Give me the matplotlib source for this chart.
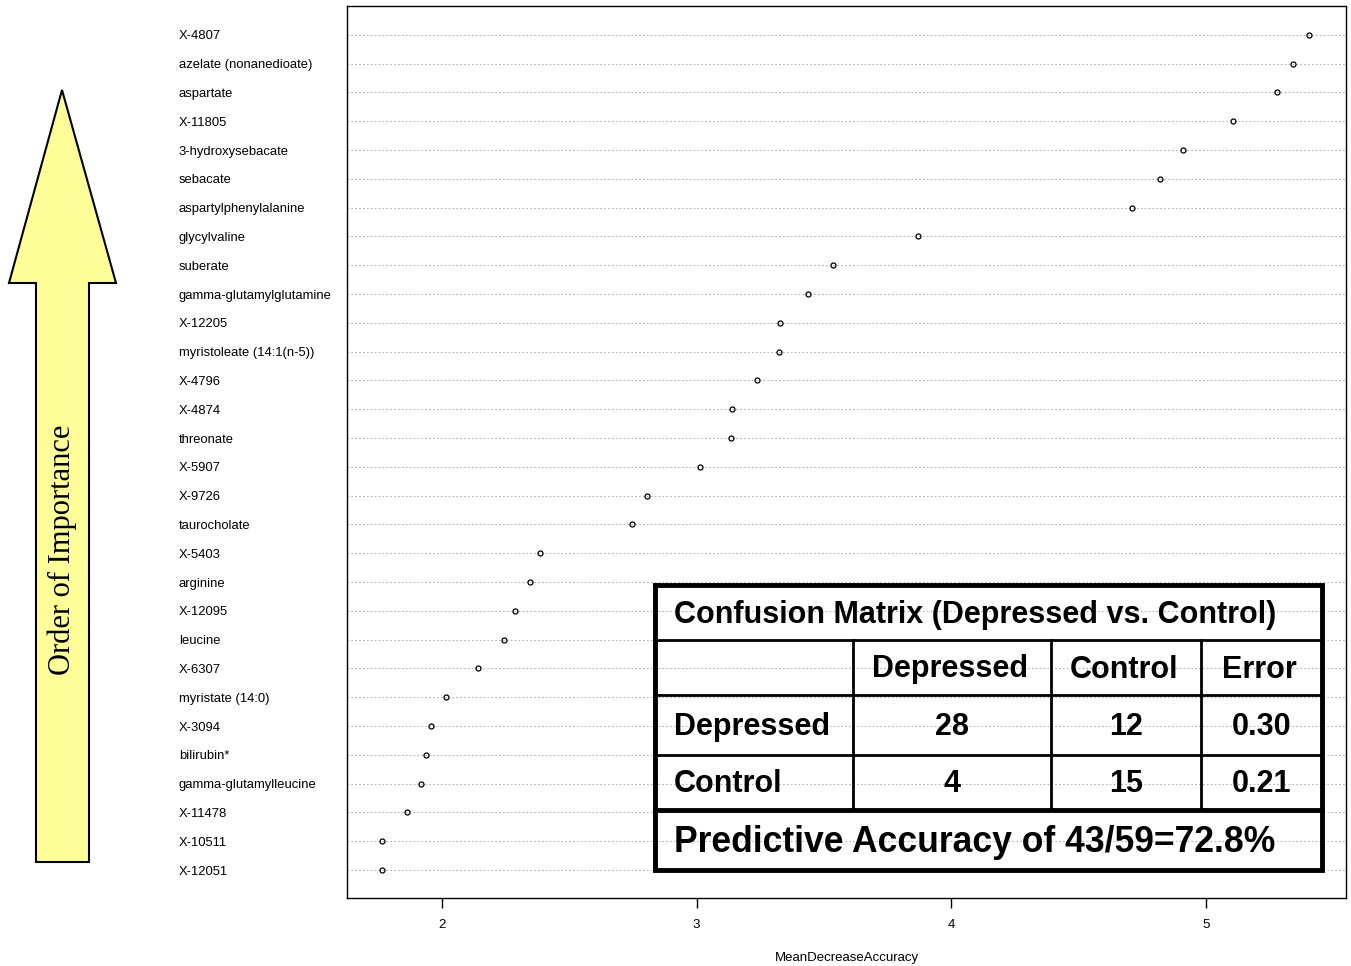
import numpy as np
import matplotlib.pyplot as plt
from matplotlib.patches import Polygon

metabolites = ['X-4807', 'azelate (nonanedioate)', 'aspartate', 'X-11805', '3-hydroxysebacate',
               'sebacate', 'aspartylphenylalanine', 'glycylvaline', 'suberate',
               'gamma-glutamylglutamine', 'X-12205', 'myristoleate (14:1(n-5))', 'X-4796',
               'X-4874', 'threonate', 'X-5907', 'X-9726', 'taurocholate', 'X-5403', 'arginine',
               'X-12095', 'leucine', 'X-6307', 'myristate (14:0)', 'X-3094', 'bilirubin*',
               'gamma-glutamylleucine', 'X-11478', 'X-10511', 'X-12051']
mda = [5.405, 5.34, 5.28, 5.106, 4.91, 4.82, 4.71, 3.87, 3.536, 3.438, 3.328, 3.324, 3.236,
       3.138, 3.134, 3.012, 2.805, 2.746, 2.385, 2.346, 2.287, 2.244, 2.141, 2.016, 1.957,
       1.937, 1.917, 1.862, 1.764, 1.764]

xticks = [2, 3, 4, 5]

cm_title = 'Confusion Matrix (Depressed vs. Control)'
cm_cols = ['Depressed', 'Control', 'Error']
cm_rows = ['Depressed', 'Control']
cm_vals = [['28', '12', '0.30'], ['4', '15', '0.21']]
cm_footer = 'Predictive Accuracy of 43/59=72.8%'

W, H = 1351, 966
fig = plt.figure(figsize=(W / 100, H / 100), dpi=100)
plt.rcParams['font.family'] = ['Liberation Sans', 'DejaVu Sans']

ax = fig.add_axes([347 / W, 1 - 898 / H, (1346 - 347) / W, (898 - 6) / H])
n = len(metabolites)
ypos = np.arange(n, 0, -1)
for y in ypos:
    ax.axhline(y, color='#b4b4b4', linestyle=(0, (1.5, 2)), linewidth=0.8, zorder=1)
ax.plot(mda, ypos, 'o', markerfacecolor='none', markeredgecolor='black',
        markersize=3.6, markeredgewidth=0.9, zorder=3)
ax.set_xlim(1.627, 5.55)
ax.set_ylim(0.03, 31.0)
ax.set_xticks(xticks)
ax.set_xticklabels([str(t) for t in xticks], fontsize=9.5)
ax.tick_params(axis='x', length=7, width=1, pad=8)
ax.set_yticks(ypos)
ax.set_yticklabels(metabolites, fontsize=9.4)
ax.tick_params(axis='y', length=0, pad=121)
for t in ax.get_yticklabels():
    t.set_horizontalalignment('left')
for s in ax.spines.values():
    s.set_linewidth(1.0)
ax.set_xlabel('MeanDecreaseAccuracy', fontsize=9.5, labelpad=15)

# overlay in pixel coordinates
ov = fig.add_axes([0, 0, 1, 1], facecolor='none')
ov.set_xlim(0, W)
ov.set_ylim(H, 0)
ov.axis('off')

arrow = Polygon([(62, 90), (116, 283), (89, 283), (89, 862), (36, 862), (36, 283), (9, 283)],
                closed=True, facecolor='#ffff99', edgecolor='black', linewidth=1.5)
ov.add_patch(arrow)
ov.text(62, 550, 'Order of Importance', rotation=90, ha='center', va='center',
        fontsize=22, family=['Liberation Serif', 'DejaVu Serif'])

# confusion matrix table
tx0, tx1 = 655, 1322
col_x = [655, 853, 1051, 1201, 1322]
row_y = [585, 640, 695, 755, 810, 870]
tfont = ['Liberation Sans', 'DejaVu Sans']
ov.plot([tx0, tx1, tx1, tx0, tx0], [row_y[0], row_y[0], row_y[-1], row_y[-1], row_y[0]],
        color='black', linewidth=3.5, solid_joinstyle='miter', zorder=5)
for i, y in enumerate(row_y[1:-1], start=1):
    lw = 3.5 if i == 4 else 2
    ov.plot([tx0, tx1], [y, y], color='black', linewidth=lw, zorder=5)
for x in col_x[1:-1]:
    ov.plot([x, x], [row_y[1], row_y[4]], color='black', linewidth=2, zorder=5)

ov.text(674, (row_y[0] + row_y[1]) / 2 + 3, cm_title, ha='left', va='center',
        fontsize=22, fontweight='bold', family=tfont)
for j, c in enumerate(cm_cols):
    ov.text((col_x[j + 1] + col_x[j + 2]) / 2 - 2, (row_y[1] + row_y[2]) / 2 + 2, c,
            ha='center', va='center', fontsize=22, fontweight='bold', family=tfont)
for i, r in enumerate(cm_rows):
    yc = (row_y[2 + i] + row_y[3 + i]) / 2 + 2
    ov.text(674, yc, r, ha='left', va='center', fontsize=22, fontweight='bold', family=tfont)
    for j, v in enumerate(cm_vals[i]):
        ov.text((col_x[j + 1] + col_x[j + 2]) / 2, yc, v, ha='center', va='center',
                fontsize=22, fontweight='bold', family=tfont)
ov.text(674, (row_y[4] + row_y[5]) / 2 + 3, cm_footer, ha='left', va='center',
        fontsize=25.6, fontweight='bold', family=tfont)

fig.savefig('out.png', dpi=100)
